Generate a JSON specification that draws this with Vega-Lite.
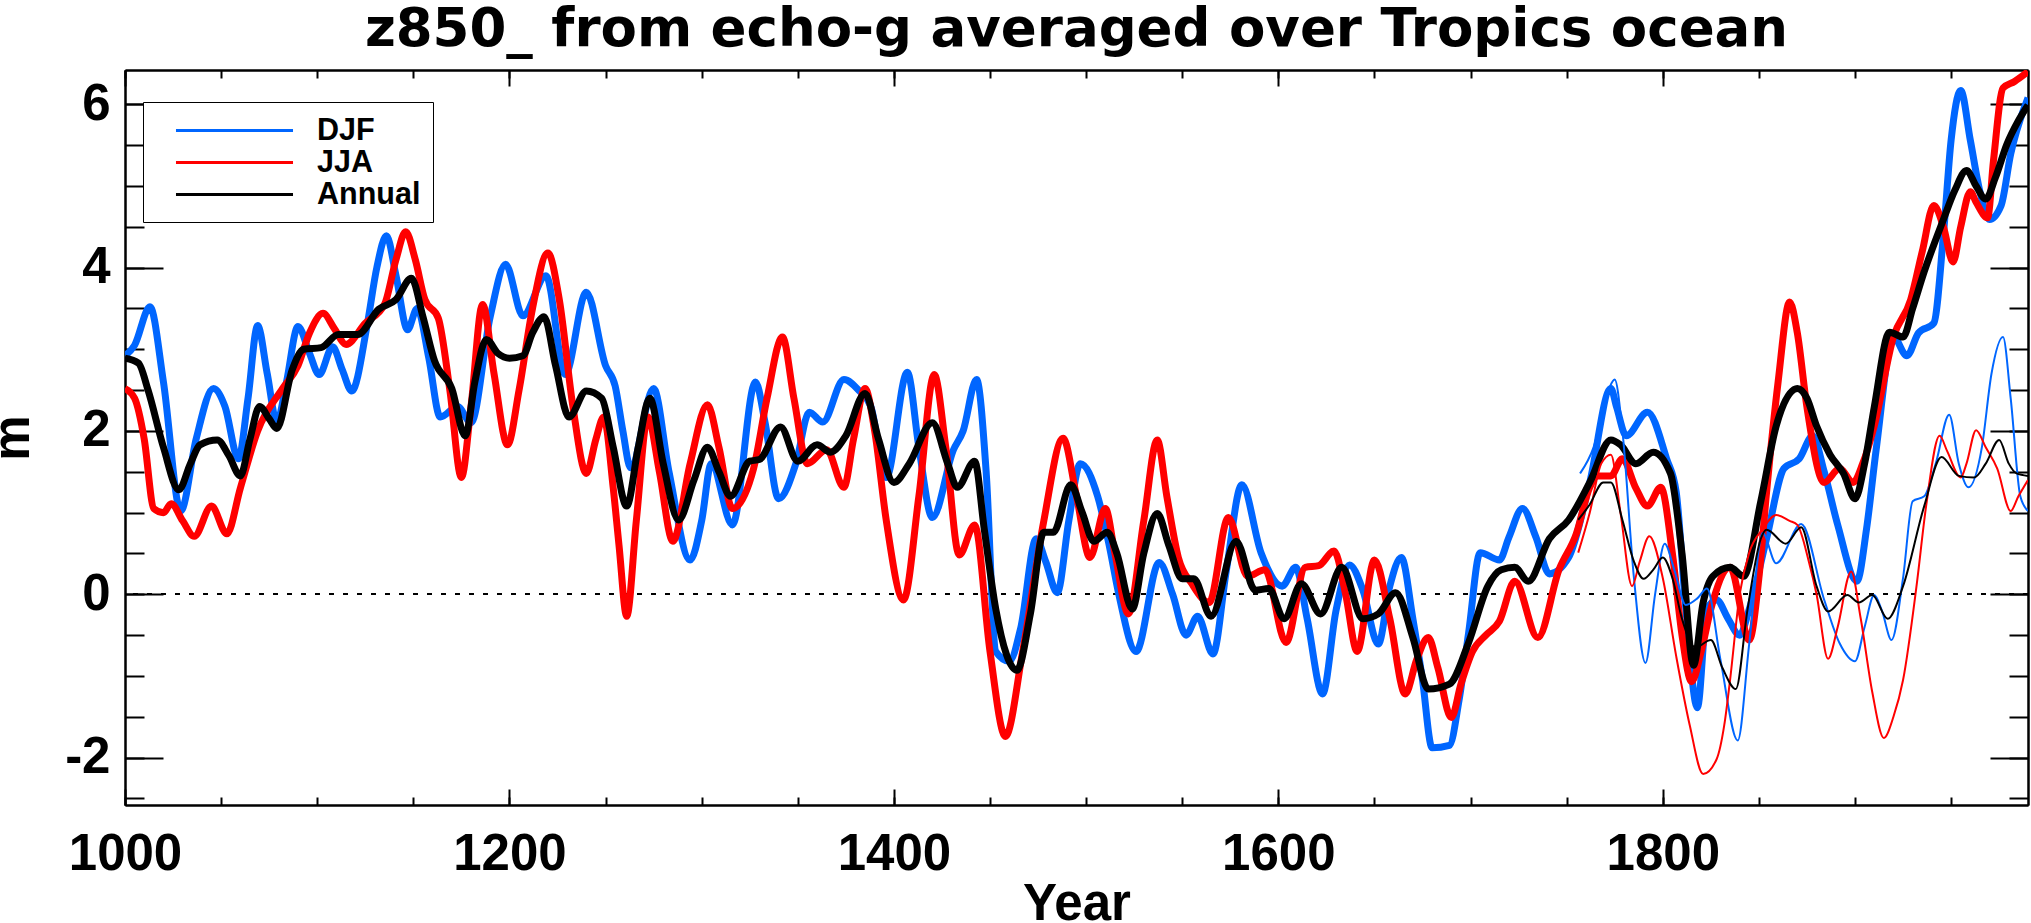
{
  "$schema": "https://vega.github.io/schema/vega-lite/v6.json",
  "autosize": "none",
  "width": 1903,
  "height": 735,
  "padding": {"left": 125, "top": 70, "right": 3, "bottom": 118},
  "background": "white",
  "title": {
    "text": "z850_ from echo-g averaged over Tropics ocean",
    "font": "DejaVu Sans", "fontWeight": "bold", "fontSize": 53, "color": "black",
    "anchor": "middle", "offset": 12
  },
  "config": {
    "view": {"stroke": null},
    "axis": {
      "domainColor": "black", "domainWidth": 2, "tickColor": "black", "tickWidth": 2,
      "labelFont": "Liberation Sans", "labelFontWeight": "bold", "labelFontSize": 51, "labelColor": "black",
      "titleFont": "Liberation Sans", "titleFontWeight": "bold", "titleFontSize": 51, "titleColor": "black",
      "grid": false, "labelFlush": false, "labelOverlap": false, "labelBound": false, "zindex": 1
    }
  },
  "data": {"values": [
    {"year":1000,"m":2.92,"season":"DJF","part":"full"},{"year":1005,"m":3.05,"season":"DJF","part":"full"},{"year":1013,"m":3.52,"season":"DJF","part":"full"},{"year":1020,"m":2.6,"season":"DJF","part":"full"},{"year":1029,"m":1.02,"season":"DJF","part":"full"},{"year":1037,"m":1.9,"season":"DJF","part":"full"},{"year":1046,"m":2.52,"season":"DJF","part":"full"},{"year":1052,"m":2.3,"season":"DJF","part":"full"},{"year":1059,"m":1.66,"season":"DJF","part":"full"},{"year":1064,"m":2.4,"season":"DJF","part":"full"},{"year":1069,"m":3.29,"season":"DJF","part":"full"},{"year":1074,"m":2.7,"season":"DJF","part":"full"},{"year":1079,"m":2.11,"season":"DJF","part":"full"},{"year":1084,"m":2.6,"season":"DJF","part":"full"},{"year":1090,"m":3.28,"season":"DJF","part":"full"},{"year":1096,"m":2.95,"season":"DJF","part":"full"},{"year":1101,"m":2.69,"season":"DJF","part":"full"},{"year":1108,"m":3.03,"season":"DJF","part":"full"},{"year":1113,"m":2.75,"season":"DJF","part":"full"},{"year":1118,"m":2.49,"season":"DJF","part":"full"},{"year":1126,"m":3.3,"season":"DJF","part":"full"},{"year":1131,"m":4.0,"season":"DJF","part":"full"},{"year":1136,"m":4.39,"season":"DJF","part":"full"},{"year":1141,"m":3.9,"season":"DJF","part":"full"},{"year":1147,"m":3.24,"season":"DJF","part":"full"},{"year":1152,"m":3.5,"season":"DJF","part":"full"},{"year":1158,"m":2.9,"season":"DJF","part":"full"},{"year":1164,"m":2.17,"season":"DJF","part":"full"},{"year":1173,"m":2.3,"season":"DJF","part":"full"},{"year":1180,"m":2.1,"season":"DJF","part":"full"},{"year":1190,"m":3.4,"season":"DJF","part":"full"},{"year":1198,"m":4.04,"season":"DJF","part":"full"},{"year":1207,"m":3.41,"season":"DJF","part":"full"},{"year":1219,"m":3.9,"season":"DJF","part":"full"},{"year":1229,"m":2.69,"season":"DJF","part":"full"},{"year":1240,"m":3.7,"season":"DJF","part":"full"},{"year":1250,"m":2.8,"season":"DJF","part":"full"},{"year":1255,"m":2.55,"season":"DJF","part":"full"},{"year":1259,"m":2.0,"season":"DJF","part":"full"},{"year":1263,"m":1.55,"season":"DJF","part":"full"},{"year":1275,"m":2.52,"season":"DJF","part":"full"},{"year":1283,"m":1.5,"season":"DJF","part":"full"},{"year":1294,"m":0.42,"season":"DJF","part":"full"},{"year":1300,"m":0.9,"season":"DJF","part":"full"},{"year":1305,"m":1.6,"season":"DJF","part":"full"},{"year":1316,"m":0.85,"season":"DJF","part":"full"},{"year":1328,"m":2.6,"season":"DJF","part":"full"},{"year":1333,"m":2.1,"season":"DJF","part":"full"},{"year":1340,"m":1.17,"season":"DJF","part":"full"},{"year":1349,"m":1.6,"season":"DJF","part":"full"},{"year":1356,"m":2.23,"season":"DJF","part":"full"},{"year":1363,"m":2.11,"season":"DJF","part":"full"},{"year":1374,"m":2.63,"season":"DJF","part":"full"},{"year":1382,"m":2.49,"season":"DJF","part":"full"},{"year":1388,"m":2.3,"season":"DJF","part":"full"},{"year":1396,"m":1.43,"season":"DJF","part":"full"},{"year":1407,"m":2.72,"season":"DJF","part":"full"},{"year":1413,"m":1.8,"season":"DJF","part":"full"},{"year":1420,"m":0.94,"season":"DJF","part":"full"},{"year":1431,"m":1.77,"season":"DJF","part":"full"},{"year":1436,"m":2.0,"season":"DJF","part":"full"},{"year":1443,"m":2.63,"season":"DJF","part":"full"},{"year":1448,"m":1.5,"season":"DJF","part":"full"},{"year":1453,"m":-0.7,"season":"DJF","part":"full"},{"year":1460,"m":-0.82,"season":"DJF","part":"full"},{"year":1466,"m":-0.41,"season":"DJF","part":"full"},{"year":1474,"m":0.68,"season":"DJF","part":"full"},{"year":1479,"m":0.4,"season":"DJF","part":"full"},{"year":1485,"m":0.02,"season":"DJF","part":"full"},{"year":1491,"m":0.9,"season":"DJF","part":"full"},{"year":1497,"m":1.6,"season":"DJF","part":"full"},{"year":1506,"m":1.2,"season":"DJF","part":"full"},{"year":1512,"m":0.6,"season":"DJF","part":"full"},{"year":1517,"m":0.0,"season":"DJF","part":"full"},{"year":1526,"m":-0.7,"season":"DJF","part":"full"},{"year":1538,"m":0.39,"season":"DJF","part":"full"},{"year":1545,"m":0.0,"season":"DJF","part":"full"},{"year":1552,"m":-0.5,"season":"DJF","part":"full"},{"year":1558,"m":-0.27,"season":"DJF","part":"full"},{"year":1566,"m":-0.73,"season":"DJF","part":"full"},{"year":1573,"m":0.3,"season":"DJF","part":"full"},{"year":1581,"m":1.34,"season":"DJF","part":"full"},{"year":1591,"m":0.51,"season":"DJF","part":"full"},{"year":1602,"m":0.1,"season":"DJF","part":"full"},{"year":1609,"m":0.33,"season":"DJF","part":"full"},{"year":1615,"m":-0.3,"season":"DJF","part":"full"},{"year":1623,"m":-1.22,"season":"DJF","part":"full"},{"year":1630,"m":-0.2,"season":"DJF","part":"full"},{"year":1637,"m":0.36,"season":"DJF","part":"full"},{"year":1644,"m":0.05,"season":"DJF","part":"full"},{"year":1652,"m":-0.61,"season":"DJF","part":"full"},{"year":1658,"m":0.1,"season":"DJF","part":"full"},{"year":1664,"m":0.45,"season":"DJF","part":"full"},{"year":1670,"m":-0.3,"season":"DJF","part":"full"},{"year":1675,"m":-1.05,"season":"DJF","part":"full"},{"year":1680,"m":-1.88,"season":"DJF","part":"full"},{"year":1689,"m":-1.85,"season":"DJF","part":"full"},{"year":1694,"m":-1.3,"season":"DJF","part":"full"},{"year":1699,"m":-0.47,"season":"DJF","part":"full"},{"year":1705,"m":0.51,"season":"DJF","part":"full"},{"year":1715,"m":0.42,"season":"DJF","part":"full"},{"year":1720,"m":0.7,"season":"DJF","part":"full"},{"year":1727,"m":1.05,"season":"DJF","part":"full"},{"year":1734,"m":0.7,"season":"DJF","part":"full"},{"year":1741,"m":0.25,"season":"DJF","part":"full"},{"year":1751,"m":0.45,"season":"DJF","part":"full"},{"year":1762,"m":1.37,"season":"DJF","part":"full"},{"year":1773,"m":2.52,"season":"DJF","part":"full"},{"year":1776,"m":2.29,"season":"DJF","part":"full"},{"year":1781,"m":1.94,"season":"DJF","part":"full"},{"year":1792,"m":2.23,"season":"DJF","part":"full"},{"year":1802,"m":1.66,"season":"DJF","part":"full"},{"year":1807,"m":1.25,"season":"DJF","part":"full"},{"year":1812,"m":-0.18,"season":"DJF","part":"full"},{"year":1818,"m":-1.39,"season":"DJF","part":"full"},{"year":1823,"m":-0.18,"season":"DJF","part":"full"},{"year":1828,"m":-0.07,"season":"DJF","part":"full"},{"year":1834,"m":-0.3,"season":"DJF","part":"full"},{"year":1840,"m":-0.5,"season":"DJF","part":"full"},{"year":1845,"m":-0.18,"season":"DJF","part":"full"},{"year":1854,"m":0.68,"season":"DJF","part":"full"},{"year":1863,"m":1.54,"season":"DJF","part":"full"},{"year":1871,"m":1.66,"season":"DJF","part":"full"},{"year":1878,"m":1.94,"season":"DJF","part":"full"},{"year":1884,"m":1.5,"season":"DJF","part":"full"},{"year":1891,"m":0.85,"season":"DJF","part":"full"},{"year":1901,"m":0.16,"season":"DJF","part":"full"},{"year":1906,"m":0.8,"season":"DJF","part":"full"},{"year":1911,"m":1.77,"season":"DJF","part":"full"},{"year":1920,"m":3.15,"season":"DJF","part":"full"},{"year":1927,"m":2.92,"season":"DJF","part":"full"},{"year":1933,"m":3.2,"season":"DJF","part":"full"},{"year":1941,"m":3.32,"season":"DJF","part":"full"},{"year":1946,"m":4.4,"season":"DJF","part":"full"},{"year":1950,"m":5.56,"season":"DJF","part":"full"},{"year":1955,"m":6.17,"season":"DJF","part":"full"},{"year":1960,"m":5.56,"season":"DJF","part":"full"},{"year":1965,"m":4.93,"season":"DJF","part":"full"},{"year":1970,"m":4.59,"season":"DJF","part":"full"},{"year":1976,"m":4.76,"season":"DJF","part":"full"},{"year":1981,"m":5.39,"season":"DJF","part":"full"},{"year":1990,"m":6.08,"season":"DJF","part":"full"},

    {"year":1000,"m":2.52,"season":"JJA","part":"full"},{"year":1005,"m":2.4,"season":"JJA","part":"full"},{"year":1010,"m":1.9,"season":"JJA","part":"full"},{"year":1015,"m":1.05,"season":"JJA","part":"full"},{"year":1020,"m":1.0,"season":"JJA","part":"full"},{"year":1024,"m":1.11,"season":"JJA","part":"full"},{"year":1030,"m":0.9,"season":"JJA","part":"full"},{"year":1036,"m":0.71,"season":"JJA","part":"full"},{"year":1045,"m":1.08,"season":"JJA","part":"full"},{"year":1053,"m":0.74,"season":"JJA","part":"full"},{"year":1060,"m":1.3,"season":"JJA","part":"full"},{"year":1069,"m":2.0,"season":"JJA","part":"full"},{"year":1082,"m":2.52,"season":"JJA","part":"full"},{"year":1090,"m":2.8,"season":"JJA","part":"full"},{"year":1096,"m":3.2,"season":"JJA","part":"full"},{"year":1103,"m":3.44,"season":"JJA","part":"full"},{"year":1109,"m":3.25,"season":"JJA","part":"full"},{"year":1115,"m":3.06,"season":"JJA","part":"full"},{"year":1125,"m":3.32,"season":"JJA","part":"full"},{"year":1135,"m":3.55,"season":"JJA","part":"full"},{"year":1141,"m":4.1,"season":"JJA","part":"full"},{"year":1146,"m":4.44,"season":"JJA","part":"full"},{"year":1151,"m":4.1,"season":"JJA","part":"full"},{"year":1156,"m":3.61,"season":"JJA","part":"full"},{"year":1163,"m":3.38,"season":"JJA","part":"full"},{"year":1169,"m":2.5,"season":"JJA","part":"full"},{"year":1175,"m":1.43,"season":"JJA","part":"full"},{"year":1180,"m":2.3,"season":"JJA","part":"full"},{"year":1186,"m":3.55,"season":"JJA","part":"full"},{"year":1192,"m":2.7,"season":"JJA","part":"full"},{"year":1199,"m":1.83,"season":"JJA","part":"full"},{"year":1205,"m":2.5,"season":"JJA","part":"full"},{"year":1212,"m":3.5,"season":"JJA","part":"full"},{"year":1220,"m":4.18,"season":"JJA","part":"full"},{"year":1226,"m":3.6,"season":"JJA","part":"full"},{"year":1233,"m":2.3,"season":"JJA","part":"full"},{"year":1240,"m":1.48,"season":"JJA","part":"full"},{"year":1245,"m":1.9,"season":"JJA","part":"full"},{"year":1249,"m":2.17,"season":"JJA","part":"full"},{"year":1254,"m":1.3,"season":"JJA","part":"full"},{"year":1257,"m":0.6,"season":"JJA","part":"full"},{"year":1261,"m":-0.27,"season":"JJA","part":"full"},{"year":1266,"m":0.9,"season":"JJA","part":"full"},{"year":1272,"m":2.17,"season":"JJA","part":"full"},{"year":1278,"m":1.5,"season":"JJA","part":"full"},{"year":1285,"m":0.65,"season":"JJA","part":"full"},{"year":1294,"m":1.6,"season":"JJA","part":"full"},{"year":1303,"m":2.32,"season":"JJA","part":"full"},{"year":1309,"m":1.8,"season":"JJA","part":"full"},{"year":1316,"m":1.05,"season":"JJA","part":"full"},{"year":1327,"m":1.54,"season":"JJA","part":"full"},{"year":1334,"m":2.4,"season":"JJA","part":"full"},{"year":1342,"m":3.15,"season":"JJA","part":"full"},{"year":1348,"m":2.4,"season":"JJA","part":"full"},{"year":1355,"m":1.6,"season":"JJA","part":"full"},{"year":1365,"m":1.77,"season":"JJA","part":"full"},{"year":1374,"m":1.31,"season":"JJA","part":"full"},{"year":1379,"m":1.9,"season":"JJA","part":"full"},{"year":1385,"m":2.52,"season":"JJA","part":"full"},{"year":1390,"m":2.0,"season":"JJA","part":"full"},{"year":1396,"m":0.91,"season":"JJA","part":"full"},{"year":1405,"m":-0.07,"season":"JJA","part":"full"},{"year":1413,"m":1.2,"season":"JJA","part":"full"},{"year":1421,"m":2.69,"season":"JJA","part":"full"},{"year":1427,"m":1.8,"season":"JJA","part":"full"},{"year":1434,"m":0.48,"season":"JJA","part":"full"},{"year":1442,"m":0.85,"season":"JJA","part":"full"},{"year":1450,"m":-0.7,"season":"JJA","part":"full"},{"year":1458,"m":-1.74,"season":"JJA","part":"full"},{"year":1467,"m":-0.7,"season":"JJA","part":"full"},{"year":1478,"m":0.9,"season":"JJA","part":"full"},{"year":1488,"m":1.91,"season":"JJA","part":"full"},{"year":1495,"m":1.2,"season":"JJA","part":"full"},{"year":1502,"m":0.45,"season":"JJA","part":"full"},{"year":1510,"m":1.05,"season":"JJA","part":"full"},{"year":1515,"m":0.5,"season":"JJA","part":"full"},{"year":1522,"m":-0.24,"season":"JJA","part":"full"},{"year":1530,"m":0.9,"season":"JJA","part":"full"},{"year":1537,"m":1.89,"season":"JJA","part":"full"},{"year":1542,"m":1.2,"season":"JJA","part":"full"},{"year":1548,"m":0.45,"season":"JJA","part":"full"},{"year":1555,"m":0.13,"season":"JJA","part":"full"},{"year":1564,"m":-0.1,"season":"JJA","part":"full"},{"year":1574,"m":0.94,"season":"JJA","part":"full"},{"year":1584,"m":0.22,"season":"JJA","part":"full"},{"year":1593,"m":0.3,"season":"JJA","part":"full"},{"year":1604,"m":-0.59,"season":"JJA","part":"full"},{"year":1614,"m":0.33,"season":"JJA","part":"full"},{"year":1621,"m":0.35,"season":"JJA","part":"full"},{"year":1629,"m":0.53,"season":"JJA","part":"full"},{"year":1635,"m":0.0,"season":"JJA","part":"full"},{"year":1641,"m":-0.7,"season":"JJA","part":"full"},{"year":1650,"m":0.42,"season":"JJA","part":"full"},{"year":1658,"m":-0.3,"season":"JJA","part":"full"},{"year":1666,"m":-1.22,"season":"JJA","part":"full"},{"year":1672,"m":-0.8,"season":"JJA","part":"full"},{"year":1678,"m":-0.53,"season":"JJA","part":"full"},{"year":1683,"m":-0.9,"season":"JJA","part":"full"},{"year":1690,"m":-1.51,"season":"JJA","part":"full"},{"year":1695,"m":-1.1,"season":"JJA","part":"full"},{"year":1701,"m":-0.7,"season":"JJA","part":"full"},{"year":1708,"m":-0.5,"season":"JJA","part":"full"},{"year":1715,"m":-0.33,"season":"JJA","part":"full"},{"year":1723,"m":0.16,"season":"JJA","part":"full"},{"year":1735,"m":-0.53,"season":"JJA","part":"full"},{"year":1746,"m":0.3,"season":"JJA","part":"full"},{"year":1755,"m":0.74,"season":"JJA","part":"full"},{"year":1762,"m":1.31,"season":"JJA","part":"full"},{"year":1766,"m":1.45,"season":"JJA","part":"full"},{"year":1773,"m":1.45,"season":"JJA","part":"full"},{"year":1779,"m":1.66,"season":"JJA","part":"full"},{"year":1786,"m":1.3,"season":"JJA","part":"full"},{"year":1792,"m":1.08,"season":"JJA","part":"full"},{"year":1799,"m":1.31,"season":"JJA","part":"full"},{"year":1805,"m":0.5,"season":"JJA","part":"full"},{"year":1810,"m":-0.5,"season":"JJA","part":"full"},{"year":1815,"m":-1.07,"season":"JJA","part":"full"},{"year":1820,"m":-0.7,"season":"JJA","part":"full"},{"year":1825,"m":-0.18,"season":"JJA","part":"full"},{"year":1835,"m":0.33,"season":"JJA","part":"full"},{"year":1845,"m":-0.56,"season":"JJA","part":"full"},{"year":1850,"m":0.2,"season":"JJA","part":"full"},{"year":1854,"m":1.25,"season":"JJA","part":"full"},{"year":1860,"m":2.6,"season":"JJA","part":"full"},{"year":1866,"m":3.58,"season":"JJA","part":"full"},{"year":1870,"m":3.2,"season":"JJA","part":"full"},{"year":1875,"m":2.29,"season":"JJA","part":"full"},{"year":1884,"m":1.37,"season":"JJA","part":"full"},{"year":1892,"m":1.54,"season":"JJA","part":"full"},{"year":1899,"m":1.37,"season":"JJA","part":"full"},{"year":1904,"m":1.6,"season":"JJA","part":"full"},{"year":1910,"m":2.06,"season":"JJA","part":"full"},{"year":1920,"m":3.15,"season":"JJA","part":"full"},{"year":1929,"m":3.61,"season":"JJA","part":"full"},{"year":1935,"m":4.2,"season":"JJA","part":"full"},{"year":1941,"m":4.76,"season":"JJA","part":"full"},{"year":1946,"m":4.5,"season":"JJA","part":"full"},{"year":1951,"m":4.07,"season":"JJA","part":"full"},{"year":1955,"m":4.5,"season":"JJA","part":"full"},{"year":1960,"m":4.93,"season":"JJA","part":"full"},{"year":1963,"m":4.8,"season":"JJA","part":"full"},{"year":1969,"m":4.61,"season":"JJA","part":"full"},{"year":1972,"m":5.3,"season":"JJA","part":"full"},{"year":1977,"m":6.2,"season":"JJA","part":"full"},{"year":1983,"m":6.28,"season":"JJA","part":"full"},{"year":1990,"m":6.4,"season":"JJA","part":"full"},

    {"year":1000,"m":2.89,"season":"Annual","part":"full"},{"year":1007,"m":2.83,"season":"Annual","part":"full"},{"year":1012,"m":2.5,"season":"Annual","part":"full"},{"year":1020,"m":1.8,"season":"Annual","part":"full"},{"year":1028,"m":1.28,"season":"Annual","part":"full"},{"year":1034,"m":1.6,"season":"Annual","part":"full"},{"year":1039,"m":1.83,"season":"Annual","part":"full"},{"year":1048,"m":1.89,"season":"Annual","part":"full"},{"year":1054,"m":1.7,"season":"Annual","part":"full"},{"year":1060,"m":1.45,"season":"Annual","part":"full"},{"year":1065,"m":1.9,"season":"Annual","part":"full"},{"year":1070,"m":2.3,"season":"Annual","part":"full"},{"year":1075,"m":2.15,"season":"Annual","part":"full"},{"year":1079,"m":2.03,"season":"Annual","part":"full"},{"year":1087,"m":2.75,"season":"Annual","part":"full"},{"year":1093,"m":3.0,"season":"Annual","part":"full"},{"year":1102,"m":3.02,"season":"Annual","part":"full"},{"year":1111,"m":3.18,"season":"Annual","part":"full"},{"year":1121,"m":3.18,"season":"Annual","part":"full"},{"year":1132,"m":3.49,"season":"Annual","part":"full"},{"year":1141,"m":3.61,"season":"Annual","part":"full"},{"year":1149,"m":3.87,"season":"Annual","part":"full"},{"year":1155,"m":3.4,"season":"Annual","part":"full"},{"year":1161,"m":2.86,"season":"Annual","part":"full"},{"year":1170,"m":2.52,"season":"Annual","part":"full"},{"year":1177,"m":1.94,"season":"Annual","part":"full"},{"year":1182,"m":2.6,"season":"Annual","part":"full"},{"year":1188,"m":3.12,"season":"Annual","part":"full"},{"year":1194,"m":2.95,"season":"Annual","part":"full"},{"year":1200,"m":2.89,"season":"Annual","part":"full"},{"year":1207,"m":2.92,"season":"Annual","part":"full"},{"year":1212,"m":3.2,"season":"Annual","part":"full"},{"year":1218,"m":3.4,"season":"Annual","part":"full"},{"year":1224,"m":2.8,"season":"Annual","part":"full"},{"year":1231,"m":2.17,"season":"Annual","part":"full"},{"year":1240,"m":2.49,"season":"Annual","part":"full"},{"year":1248,"m":2.4,"season":"Annual","part":"full"},{"year":1254,"m":1.8,"season":"Annual","part":"full"},{"year":1261,"m":1.08,"season":"Annual","part":"full"},{"year":1267,"m":1.8,"season":"Annual","part":"full"},{"year":1273,"m":2.4,"season":"Annual","part":"full"},{"year":1280,"m":1.6,"season":"Annual","part":"full"},{"year":1288,"m":0.91,"season":"Annual","part":"full"},{"year":1296,"m":1.4,"season":"Annual","part":"full"},{"year":1303,"m":1.8,"season":"Annual","part":"full"},{"year":1309,"m":1.5,"season":"Annual","part":"full"},{"year":1315,"m":1.2,"season":"Annual","part":"full"},{"year":1325,"m":1.63,"season":"Annual","part":"full"},{"year":1330,"m":1.65,"season":"Annual","part":"full"},{"year":1341,"m":2.05,"season":"Annual","part":"full"},{"year":1350,"m":1.63,"season":"Annual","part":"full"},{"year":1360,"m":1.83,"season":"Annual","part":"full"},{"year":1367,"m":1.74,"season":"Annual","part":"full"},{"year":1375,"m":1.94,"season":"Annual","part":"full"},{"year":1385,"m":2.46,"season":"Annual","part":"full"},{"year":1392,"m":1.9,"season":"Annual","part":"full"},{"year":1400,"m":1.37,"season":"Annual","part":"full"},{"year":1408,"m":1.6,"season":"Annual","part":"full"},{"year":1420,"m":2.1,"season":"Annual","part":"full"},{"year":1428,"m":1.6,"season":"Annual","part":"full"},{"year":1433,"m":1.31,"season":"Annual","part":"full"},{"year":1442,"m":1.63,"season":"Annual","part":"full"},{"year":1447,"m":0.8,"season":"Annual","part":"full"},{"year":1453,"m":-0.18,"season":"Annual","part":"full"},{"year":1464,"m":-0.93,"season":"Annual","part":"full"},{"year":1471,"m":-0.24,"season":"Annual","part":"full"},{"year":1478,"m":0.76,"season":"Annual","part":"full"},{"year":1483,"m":0.76,"season":"Annual","part":"full"},{"year":1492,"m":1.34,"season":"Annual","part":"full"},{"year":1498,"m":1.0,"season":"Annual","part":"full"},{"year":1504,"m":0.65,"season":"Annual","part":"full"},{"year":1511,"m":0.76,"season":"Annual","part":"full"},{"year":1516,"m":0.5,"season":"Annual","part":"full"},{"year":1524,"m":-0.18,"season":"Annual","part":"full"},{"year":1530,"m":0.5,"season":"Annual","part":"full"},{"year":1537,"m":0.99,"season":"Annual","part":"full"},{"year":1543,"m":0.6,"season":"Annual","part":"full"},{"year":1550,"m":0.19,"season":"Annual","part":"full"},{"year":1556,"m":0.19,"season":"Annual","part":"full"},{"year":1565,"m":-0.27,"season":"Annual","part":"full"},{"year":1578,"m":0.65,"season":"Annual","part":"full"},{"year":1588,"m":0.05,"season":"Annual","part":"full"},{"year":1595,"m":0.07,"season":"Annual","part":"full"},{"year":1603,"m":-0.3,"season":"Annual","part":"full"},{"year":1612,"m":0.13,"season":"Annual","part":"full"},{"year":1622,"m":-0.24,"season":"Annual","part":"full"},{"year":1633,"m":0.33,"season":"Annual","part":"full"},{"year":1644,"m":-0.3,"season":"Annual","part":"full"},{"year":1652,"m":-0.24,"season":"Annual","part":"full"},{"year":1661,"m":0.02,"season":"Annual","part":"full"},{"year":1670,"m":-0.53,"season":"Annual","part":"full"},{"year":1678,"m":-1.16,"season":"Annual","part":"full"},{"year":1689,"m":-1.1,"season":"Annual","part":"full"},{"year":1699,"m":-0.59,"season":"Annual","part":"full"},{"year":1709,"m":0.1,"season":"Annual","part":"full"},{"year":1716,"m":0.3,"season":"Annual","part":"full"},{"year":1723,"m":0.33,"season":"Annual","part":"full"},{"year":1730,"m":0.16,"season":"Annual","part":"full"},{"year":1741,"m":0.68,"season":"Annual","part":"full"},{"year":1751,"m":0.91,"season":"Annual","part":"full"},{"year":1762,"m":1.37,"season":"Annual","part":"full"},{"year":1773,"m":1.89,"season":"Annual","part":"full"},{"year":1778,"m":1.83,"season":"Annual","part":"full"},{"year":1786,"m":1.6,"season":"Annual","part":"full"},{"year":1795,"m":1.74,"season":"Annual","part":"full"},{"year":1804,"m":1.48,"season":"Annual","part":"full"},{"year":1810,"m":0.5,"season":"Annual","part":"full"},{"year":1816,"m":-0.87,"season":"Annual","part":"full"},{"year":1821,"m":-0.1,"season":"Annual","part":"full"},{"year":1826,"m":0.22,"season":"Annual","part":"full"},{"year":1835,"m":0.33,"season":"Annual","part":"full"},{"year":1842,"m":0.22,"season":"Annual","part":"full"},{"year":1851,"m":1.14,"season":"Annual","part":"full"},{"year":1859,"m":2.06,"season":"Annual","part":"full"},{"year":1870,"m":2.52,"season":"Annual","part":"full"},{"year":1875,"m":2.4,"season":"Annual","part":"full"},{"year":1880,"m":2.06,"season":"Annual","part":"full"},{"year":1887,"m":1.71,"season":"Annual","part":"full"},{"year":1894,"m":1.48,"season":"Annual","part":"full"},{"year":1900,"m":1.17,"season":"Annual","part":"full"},{"year":1905,"m":1.6,"season":"Annual","part":"full"},{"year":1910,"m":2.29,"season":"Annual","part":"full"},{"year":1918,"m":3.21,"season":"Annual","part":"full"},{"year":1925,"m":3.15,"season":"Annual","part":"full"},{"year":1930,"m":3.5,"season":"Annual","part":"full"},{"year":1936,"m":3.95,"season":"Annual","part":"full"},{"year":1946,"m":4.59,"season":"Annual","part":"full"},{"year":1952,"m":4.95,"season":"Annual","part":"full"},{"year":1958,"m":5.19,"season":"Annual","part":"full"},{"year":1963,"m":5.0,"season":"Annual","part":"full"},{"year":1968,"m":4.84,"season":"Annual","part":"full"},{"year":1973,"m":5.1,"season":"Annual","part":"full"},{"year":1979,"m":5.51,"season":"Annual","part":"full"},{"year":1985,"m":5.8,"season":"Annual","part":"full"},{"year":1990,"m":5.99,"season":"Annual","part":"full"},

    {"year":1757,"m":1.48,"season":"DJF","part":"recent"},{"year":1764,"m":1.8,"season":"DJF","part":"recent"},{"year":1772,"m":2.52,"season":"DJF","part":"recent"},{"year":1775,"m":2.63,"season":"DJF","part":"recent"},{"year":1779,"m":2.0,"season":"DJF","part":"recent"},{"year":1785,"m":0.2,"season":"DJF","part":"recent"},{"year":1791,"m":-0.84,"season":"DJF","part":"recent"},{"year":1796,"m":0.0,"season":"DJF","part":"recent"},{"year":1801,"m":0.62,"season":"DJF","part":"recent"},{"year":1806,"m":0.3,"season":"DJF","part":"recent"},{"year":1812,"m":-0.13,"season":"DJF","part":"recent"},{"year":1818,"m":-0.05,"season":"DJF","part":"recent"},{"year":1823,"m":0.07,"season":"DJF","part":"recent"},{"year":1830,"m":-0.8,"season":"DJF","part":"recent"},{"year":1839,"m":-1.79,"season":"DJF","part":"recent"},{"year":1845,"m":-0.6,"season":"DJF","part":"recent"},{"year":1852,"m":0.75,"season":"DJF","part":"recent"},{"year":1859,"m":0.38,"season":"DJF","part":"recent"},{"year":1872,"m":0.86,"season":"DJF","part":"recent"},{"year":1884,"m":-0.07,"season":"DJF","part":"recent"},{"year":1892,"m":-0.6,"season":"DJF","part":"recent"},{"year":1900,"m":-0.82,"season":"DJF","part":"recent"},{"year":1905,"m":-0.4,"season":"DJF","part":"recent"},{"year":1910,"m":-0.01,"season":"DJF","part":"recent"},{"year":1914,"m":-0.2,"season":"DJF","part":"recent"},{"year":1919,"m":-0.56,"season":"DJF","part":"recent"},{"year":1925,"m":0.2,"season":"DJF","part":"recent"},{"year":1930,"m":1.14,"season":"DJF","part":"recent"},{"year":1936,"m":1.2,"season":"DJF","part":"recent"},{"year":1942,"m":1.6,"season":"DJF","part":"recent"},{"year":1949,"m":2.2,"season":"DJF","part":"recent"},{"year":1954,"m":1.6,"season":"DJF","part":"recent"},{"year":1959,"m":1.31,"season":"DJF","part":"recent"},{"year":1966,"m":1.8,"season":"DJF","part":"recent"},{"year":1971,"m":2.7,"season":"DJF","part":"recent"},{"year":1977,"m":3.15,"season":"DJF","part":"recent"},{"year":1981,"m":2.4,"season":"DJF","part":"recent"},{"year":1986,"m":1.2,"season":"DJF","part":"recent"},{"year":1990,"m":1.02,"season":"DJF","part":"recent"},

    {"year":1756,"m":0.51,"season":"JJA","part":"recent"},{"year":1762,"m":1.0,"season":"JJA","part":"recent"},{"year":1768,"m":1.6,"season":"JJA","part":"recent"},{"year":1773,"m":1.71,"season":"JJA","part":"recent"},{"year":1778,"m":1.0,"season":"JJA","part":"recent"},{"year":1784,"m":0.1,"season":"JJA","part":"recent"},{"year":1788,"m":0.4,"season":"JJA","part":"recent"},{"year":1793,"m":0.71,"season":"JJA","part":"recent"},{"year":1800,"m":0.2,"season":"JJA","part":"recent"},{"year":1807,"m":-0.76,"season":"JJA","part":"recent"},{"year":1814,"m":-1.6,"season":"JJA","part":"recent"},{"year":1821,"m":-2.2,"season":"JJA","part":"recent"},{"year":1828,"m":-2.02,"season":"JJA","part":"recent"},{"year":1832,"m":-1.6,"season":"JJA","part":"recent"},{"year":1835,"m":-1.05,"season":"JJA","part":"recent"},{"year":1840,"m":0.0,"season":"JJA","part":"recent"},{"year":1845,"m":0.51,"season":"JJA","part":"recent"},{"year":1852,"m":0.8,"season":"JJA","part":"recent"},{"year":1859,"m":0.97,"season":"JJA","part":"recent"},{"year":1866,"m":0.9,"season":"JJA","part":"recent"},{"year":1870,"m":0.85,"season":"JJA","part":"recent"},{"year":1876,"m":0.4,"season":"JJA","part":"recent"},{"year":1880,"m":0.0,"season":"JJA","part":"recent"},{"year":1886,"m":-0.79,"season":"JJA","part":"recent"},{"year":1891,"m":-0.4,"season":"JJA","part":"recent"},{"year":1898,"m":0.28,"season":"JJA","part":"recent"},{"year":1903,"m":-0.3,"season":"JJA","part":"recent"},{"year":1909,"m":-1.2,"season":"JJA","part":"recent"},{"year":1915,"m":-1.76,"season":"JJA","part":"recent"},{"year":1920,"m":-1.5,"season":"JJA","part":"recent"},{"year":1925,"m":-1.05,"season":"JJA","part":"recent"},{"year":1932,"m":0.1,"season":"JJA","part":"recent"},{"year":1937,"m":1.08,"season":"JJA","part":"recent"},{"year":1944,"m":1.94,"season":"JJA","part":"recent"},{"year":1948,"m":1.75,"season":"JJA","part":"recent"},{"year":1955,"m":1.43,"season":"JJA","part":"recent"},{"year":1958,"m":1.6,"season":"JJA","part":"recent"},{"year":1963,"m":2.01,"season":"JJA","part":"recent"},{"year":1968,"m":1.8,"season":"JJA","part":"recent"},{"year":1974,"m":1.54,"season":"JJA","part":"recent"},{"year":1981,"m":1.02,"season":"JJA","part":"recent"},{"year":1985,"m":1.2,"season":"JJA","part":"recent"},{"year":1990,"m":1.4,"season":"JJA","part":"recent"},

    {"year":1756,"m":0.91,"season":"Annual","part":"recent"},{"year":1762,"m":1.1,"season":"Annual","part":"recent"},{"year":1769,"m":1.37,"season":"Annual","part":"recent"},{"year":1773,"m":1.37,"season":"Annual","part":"recent"},{"year":1779,"m":0.91,"season":"Annual","part":"recent"},{"year":1785,"m":0.4,"season":"Annual","part":"recent"},{"year":1790,"m":0.19,"season":"Annual","part":"recent"},{"year":1795,"m":0.3,"season":"Annual","part":"recent"},{"year":1800,"m":0.45,"season":"Annual","part":"recent"},{"year":1805,"m":0.2,"season":"Annual","part":"recent"},{"year":1810,"m":-0.3,"season":"Annual","part":"recent"},{"year":1817,"m":-0.65,"season":"Annual","part":"recent"},{"year":1825,"m":-0.56,"season":"Annual","part":"recent"},{"year":1831,"m":-0.9,"season":"Annual","part":"recent"},{"year":1838,"m":-1.16,"season":"Annual","part":"recent"},{"year":1844,"m":-0.2,"season":"Annual","part":"recent"},{"year":1851,"m":0.68,"season":"Annual","part":"recent"},{"year":1854,"m":0.79,"season":"Annual","part":"recent"},{"year":1864,"m":0.62,"season":"Annual","part":"recent"},{"year":1872,"m":0.82,"season":"Annual","part":"recent"},{"year":1880,"m":0.1,"season":"Annual","part":"recent"},{"year":1886,"m":-0.21,"season":"Annual","part":"recent"},{"year":1896,"m":-0.01,"season":"Annual","part":"recent"},{"year":1902,"m":-0.1,"season":"Annual","part":"recent"},{"year":1909,"m":-0.01,"season":"Annual","part":"recent"},{"year":1917,"m":-0.3,"season":"Annual","part":"recent"},{"year":1925,"m":0.1,"season":"Annual","part":"recent"},{"year":1936,"m":1.08,"season":"Annual","part":"recent"},{"year":1945,"m":1.68,"season":"Annual","part":"recent"},{"year":1954,"m":1.45,"season":"Annual","part":"recent"},{"year":1962,"m":1.43,"season":"Annual","part":"recent"},{"year":1968,"m":1.6,"season":"Annual","part":"recent"},{"year":1975,"m":1.89,"season":"Annual","part":"recent"},{"year":1980,"m":1.6,"season":"Annual","part":"recent"},{"year":1984,"m":1.48,"season":"Annual","part":"recent"},{"year":1990,"m":1.45,"season":"Annual","part":"recent"}
  ]},
  "resolve": {"axis": {"x": "independent", "y": "independent"}},
  "layer": [
    {
      "mark": {"type": "rule", "color": "black", "strokeWidth": 1.5, "strokeDash": [5, 9]},
      "encoding": {"y": {"datum": 0, "type": "quantitative", "scale": {"domain": [-2.58, 6.42], "nice": false, "zero": false}, "axis": null}}
    },
    {
      "mark": {"type": "line", "interpolate": "monotone", "clip": true},
      "encoding": {
        "x": {"field": "year", "type": "quantitative", "scale": {"domain": [1000, 1990], "nice": false, "zero": false},
              "axis": {"orient": "bottom", "values": [1000, 1200, 1400, 1600, 1800], "format": "d", "tickSize": -16, "labelPadding": 40, "title": "Year", "titlePadding": 0}},
        "y": {"field": "m", "type": "quantitative", "scale": {"domain": [-2.58, 6.42], "nice": false, "zero": false},
              "axis": {"orient": "left", "values": [-2, 0, 2, 4, 6], "labelExpr": "'' + datum.value", "tickSize": -38, "labelPadding": 53, "title": "m", "titlePadding": 25}},
        "color": {"field": "season", "type": "nominal",
                  "scale": {"domain": ["DJF", "JJA", "Annual"], "range": ["#0066ff", "#ff0000", "#000000"]},
                  "legend": {"title": null, "orient": "none", "legendX": 18, "legendY": 32, "direction": "vertical",
                             "symbolType": "M-4,0H4", "symbolSize": 856, "symbolStrokeWidth": 3,
                             "labelFont": "Liberation Sans", "labelFontWeight": "bold", "labelFontSize": 30.5, "labelColor": "black",
                             "labelOffset": 66, "symbolOffset": 63, "padding": 12, "rowPadding": 0,
                             "strokeColor": "black", "fillColor": "white"}},
        "strokeWidth": {"field": "part", "type": "nominal", "scale": {"domain": ["full", "recent"], "range": [7, 2]}, "legend": null}
      }
    },
    {
      "mark": {"type": "line", "strokeOpacity": 0},
      "encoding": {
        "x": {"field": "year", "type": "quantitative", "axis": {"orient": "bottom", "values": [1000,1050,1100,1150,1200,1250,1300,1350,1400,1450,1500,1550,1600,1650,1700,1750,1800,1850,1900,1950], "tickSize": -8, "labels": false, "title": null}},
        "y": {"field": "m", "type": "quantitative", "axis": {"orient": "left", "values": [-2.5,-2,-1.5,-1,-0.5,0,0.5,1,1.5,2,2.5,3,3.5,4,4.5,5,5.5,6], "tickSize": -19, "labels": false, "title": null}}
      }
    },
    {
      "mark": {"type": "line", "strokeOpacity": 0},
      "encoding": {
        "x": {"field": "year", "type": "quantitative", "axis": {"orient": "top", "values": [1000, 1200, 1400, 1600, 1800], "tickSize": -16, "labels": false, "title": null}},
        "y": {"field": "m", "type": "quantitative", "axis": {"orient": "right", "values": [-2, 0, 2, 4, 6], "tickSize": -38, "labels": false, "title": null}}
      }
    },
    {
      "mark": {"type": "line", "strokeOpacity": 0},
      "encoding": {
        "x": {"field": "year", "type": "quantitative", "axis": {"orient": "top", "values": [1000,1050,1100,1150,1200,1250,1300,1350,1400,1450,1500,1550,1600,1650,1700,1750,1800,1850,1900,1950], "tickSize": -8, "labels": false, "title": null}},
        "y": {"field": "m", "type": "quantitative", "axis": {"orient": "right", "values": [-2.5,-2,-1.5,-1,-0.5,0,0.5,1,1.5,2,2.5,3,3.5,4,4.5,5,5.5,6], "tickSize": -19, "labels": false, "title": null}}
      }
    }
  ]
}
